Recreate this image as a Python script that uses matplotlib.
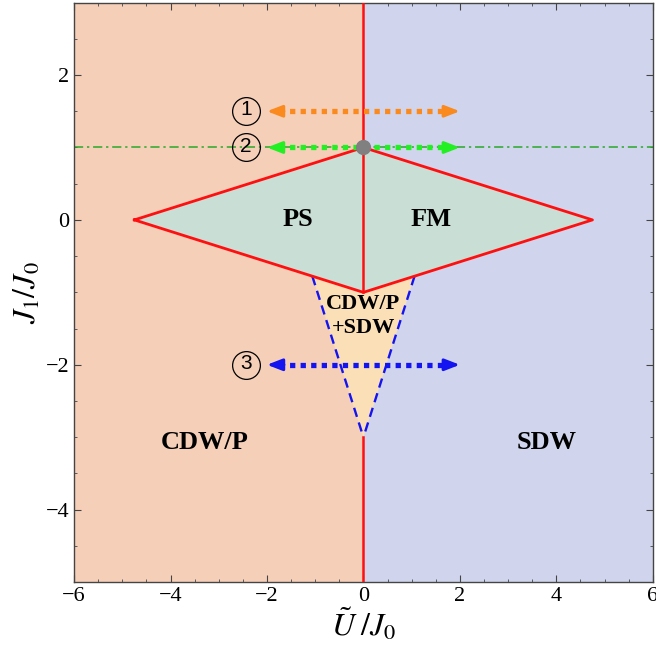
import numpy as np
import matplotlib
matplotlib.use('Agg')
import matplotlib.pyplot as plt
from matplotlib.patches import Polygon

plt.rcParams['font.family'] = 'serif'
plt.rcParams['font.serif'] = ['Liberation Serif', 'DejaVu Serif']
plt.rcParams['mathtext.fontset'] = 'stix'

# phase boundaries
diamond_x = [-4.75, 0, 4.75, 0]
diamond_y = [0, 1, 0, -1]
tri_x = [-1.06, 0, 1.06, 0]
tri_y = [-0.777, -1, -0.777, -3]

# arrows (paths 1-3)
arrow_y = [1.5, 1.0, -2.0]
arrow_x0, arrow_x1 = -2.0, 2.0
arrow_labels = ['1', '2', '3']
arrow_colors = ['#fb8a1e', '#22f022', '#1414f0']

# phase labels
phase_names = ['PS', 'FM', 'CDW/P', 'SDW']
phase_x = [-1.36, 1.4, -3.3, 3.8]
phase_y = [0.0, 0.0, -3.08, -3.08]
mixed_name = 'CDW/P\n+SDW'
mixed_x, mixed_y = 0.0, -1.33

fig = plt.figure(figsize=(6.56, 6.54), dpi=100)
ax = fig.add_axes([0.113, 0.110, 0.882, 0.886])
ax.set_xlim(-6, 6)
ax.set_ylim(-5, 3)

ax.axvspan(-6, 0, color='#f6cfb9', lw=0, zorder=0)
ax.axvspan(0, 6, color='#d0d5ed', lw=0, zorder=0)
ax.add_patch(Polygon(np.column_stack([diamond_x, diamond_y]), closed=True,
                     facecolor='#c9ded5', edgecolor='none', zorder=1))
ax.add_patch(Polygon(np.column_stack([tri_x, tri_y]), closed=True,
                     facecolor='#fbdfb7', edgecolor='none', zorder=1))

# dashed boundaries of the coexistence region
ax.plot([tri_x[0], tri_x[3]], [tri_y[0], tri_y[3]], color='#1414f0', lw=1.7,
        ls=(0, (4, 2.5)), zorder=3)
ax.plot([tri_x[2], tri_x[3]], [tri_y[2], tri_y[3]], color='#1414f0', lw=1.7,
        ls=(0, (4, 2.5)), zorder=3)

# red solid boundaries
ax.plot(diamond_x + [diamond_x[0]], diamond_y + [diamond_y[0]], color='#ff1010',
        lw=2.0, zorder=4)
ax.plot([0, 0], [-1, 3], color='#ff1010', lw=1.8, zorder=4)
ax.plot([0, 0], [-5, -3], color='#ff1010', lw=1.8, zorder=4)

# dash-dot line at J1 = J0
ax.axhline(1.0, color='#28a828', lw=1.1, ls=(0, (6, 2.5, 1.5, 2.5)), zorder=2)

for y, lab, c in zip(arrow_y, arrow_labels, arrow_colors):
    ax.plot([arrow_x0 + 0.25, arrow_x1 - 0.25], [y, y], color=c, lw=3.8,
            ls=(0, (1, 1.0)), solid_capstyle='butt', zorder=5)
    for xa, xb in [(arrow_x0 + 0.35, arrow_x0), (arrow_x1 - 0.35, arrow_x1)]:
        ax.annotate('', xy=(xb, y), xytext=(xa, y),
                    arrowprops=dict(arrowstyle='-|>,head_length=0.9,head_width=0.35',
                                    color=c, lw=2.2, shrinkA=0, shrinkB=0), zorder=5)
    ax.plot([-2.44], [y], 'o', ms=20, mfc='none', mec='black', mew=0.9, zorder=6)
    ax.text(-2.44, y + 0.02, lab, fontsize=15, family='Liberation Sans', ha='center',
            va='center', zorder=6)

ax.plot([0], [1], 'o', ms=10, color='#808080', zorder=7)

for name, x, y in zip(phase_names, phase_x, phase_y):
    ax.text(x, y, name, fontsize=19, fontweight='bold', ha='center', va='center',
            zorder=6)
ax.text(mixed_x, mixed_y, mixed_name, fontsize=16, fontweight='bold',
        ha='center', va='center', linespacing=1.3, zorder=6)

ax.set_xticks(np.arange(-6, 7, 2))
ax.set_yticks(np.arange(-4, 3, 2))
ax.set_xticks(np.arange(-6, 6.01, 0.5), minor=True)
ax.set_yticks(np.arange(-5, 3.01, 0.5), minor=True)
ax.tick_params(which='both', direction='in', top=True, right=True, labelsize=16,
               color='#444444')
ax.tick_params(which='major', length=5)
ax.tick_params(which='minor', length=2.5)
ax.set_xticklabels(['\u22126', '\u22124', '\u22122', '0', '2', '4', '6'])
ax.set_yticklabels(['\u22124', '\u22122', '0', '2'])
for s in ax.spines.values():
    s.set_color('#444444')
    s.set_linewidth(1.0)

ax.set_xlabel(r'$\tilde{U}\;/J_0$', fontsize=23, labelpad=0)
ax.set_ylabel(r'$J_1/J_0$', fontsize=23, labelpad=2)

fig.savefig('out.png', dpi=100)
